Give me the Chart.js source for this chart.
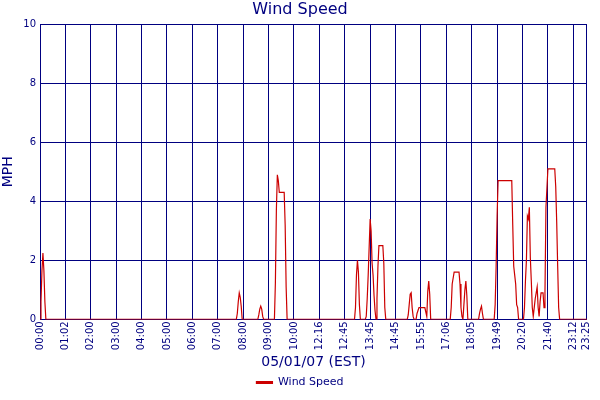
<!DOCTYPE html>
<html>
<head>
<meta charset="utf-8">
<script src="https://cdn.jsdelivr.net/npm/chart.js@4"></script>
<style>
  html, body { margin: 0; padding: 0; background: #fff; }
  #chart { display: block; }
</style>
</head>
<body>
<canvas id="chart" width="600" height="400"></canvas>
<script>
// Tick labels at evenly spaced sample indices
const tickLabels = ["00:00", "01:02", "02:00", "03:00", "04:00", "05:00", "06:00", "07:00",
    "08:00", "09:00", "10:00", "12:16", "12:45", "13:45", "14:45", "15:55", "17:06",
    "18:05", "19:49", "20:20", "21:40", "23:12", "23:25"];
const tickIndex = [0, 26, 52, 78, 104, 130, 156, 182, 208, 234, 260, 286, 312, 338, 364,
    390, 416, 442, 468, 494, 520, 546, 559];

// Wind speed samples (index, mph)
const sampleIndex = [0, 1, 2, 3, 4, 5, 6,
    201, 202, 203, 204, 205, 206, 207,
    223, 224, 225, 226, 227, 228, 229,
    240, 241, 242, 243, 244, 245, 250, 251, 252, 253,
    322, 323, 324, 325, 326, 327, 328,
    333, 334, 335, 336, 338, 339, 340, 341, 342, 343, 344,
    345, 346, 347, 348, 351, 352, 353, 354,
    376, 377, 378, 379, 380, 381, 382, 383,
    385, 386, 388, 394, 395, 396, 397, 398, 399, 400,
    420, 421, 422, 424, 429, 430, 431, 432, 433, 435, 436, 437, 438,
    449, 450, 451, 452, 453, 454,
    465, 466, 467, 468, 469, 483, 484, 485, 486, 487, 488, 489, 490,
    495, 496, 497, 498, 499, 500, 501, 502, 503, 504, 505, 506, 507, 508, 509, 510,
    511, 512, 513, 514, 515, 516, 517, 518, 520, 527, 528, 529, 530, 531, 532,
    560];
const windSpeed = [0, 0.6, 1.65, 2.25, 1.65, 0.6, 0,
    0, 0.2, 0.6, 0.9, 0.75, 0.45, 0,
    0, 0.15, 0.35, 0.45, 0.35, 0.1, 0,
    0, 1.25, 3.7, 4.9, 4.7, 4.3, 4.3, 3.2, 1.1, 0,
    0, 0.4, 1.5, 2.0, 1.6, 0.5, 0,
    0, 0.1, 0.7, 1.5, 3.4, 3.0, 1.9, 1.5, 0.8, 0.3, 0,
    0.7, 1.8, 2.5, 2.5, 2.5, 1.9, 0.4, 0,
    0, 0.15, 0.5, 0.85, 0.9, 0.4, 0.1, 0,
    0, 0.2, 0.4, 0.4, 0.25, 0.1, 0.95, 1.3, 0.85, 0,
    0, 0.4, 1.2, 1.6, 1.6, 1.2, 0.4, 0.1, 0, 1.0, 1.3, 0.8, 0,
    0, 0.2, 0.35, 0.45, 0.2, 0,
    0, 0.5, 1.8, 3.5, 4.7, 4.7, 3.2, 1.8, 1.5, 1.2, 0.5, 0.4, 0,
    0, 0.4, 1.3, 2.0, 3.5, 3.4, 3.8, 2.1, 1.3, 0.4, 0.1, 0.4, 0.7, 0.9, 1.1, 0.4,
    0.1, 0.6, 0.9, 0.9, 0.9, 0.4, 0.9, 3.8, 5.1, 5.1, 4.5, 3.3, 1.8, 0.4, 0,
    0];

const navy = "#000080";
const font = { family: "Verdana, 'DejaVu Sans', sans-serif" };

new Chart(document.getElementById("chart"), {
    type: "line",
    data: {
        datasets: [{
            label: "Wind Speed",
            data: sampleIndex.map((x, i) => ({ x: x, y: windSpeed[i] })),
            borderColor: "#cc0000",
            backgroundColor: "#cc0000",
            borderWidth: 1.2,
            pointRadius: 0,
            tension: 0
        }]
    },
    options: {
        responsive: false,
        animation: false,
        devicePixelRatio: 1,
        layout: { padding: { top: 0, right: 0, bottom: 2, left: 0 } },
        plugins: {
            title: {
                display: true, text: "Wind Speed", color: navy,
                font: { ...font, size: 16, weight: "normal" },
                padding: { top: 0, bottom: 5 }
            },
            legend: {
                position: "bottom",
                labels: {
                    color: navy, boxWidth: 16, boxHeight: 2,
                    font: { ...font, size: 11 }, padding: 2
                }
            },
            tooltip: { enabled: false }
        },
        scales: {
            x: {
                type: "linear", min: 0, max: 560,
                afterBuildTicks: axis => { axis.ticks = tickIndex.map(v => ({ value: v })); },
                ticks: {
                    color: navy, minRotation: 90, maxRotation: 90, autoSkip: false,
                    font: { ...font, size: 10 }, padding: 2,
                    callback: v => tickLabels[tickIndex.indexOf(v)]
                },
                grid: { color: navy, drawTicks: false },
                border: { color: navy },
                title: {
                    display: true, text: "05/01/07 (EST)", color: navy,
                    font: { ...font, size: 14 }, padding: { top: 2, bottom: 4 }
                }
            },
            y: {
                min: 0, max: 10,
                ticks: { stepSize: 2, color: navy, font: { ...font, size: 10 }, padding: 4 },
                grid: { color: navy, drawTicks: false },
                border: { color: navy },
                title: {
                    display: true, text: "MPH", color: navy,
                    font: { ...font, size: 14 }, padding: 0
                },
                afterFit: axis => { axis.width = 40; }
            }
        }
    }
});
</script>
</body>
</html>
